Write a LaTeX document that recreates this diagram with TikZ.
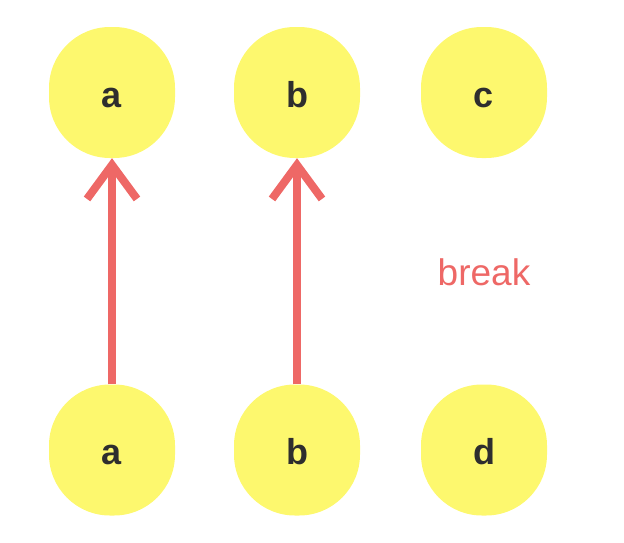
\documentclass[tikz,border=0pt]{standalone}
\usepackage{fontspec}
\setmainfont{Liberation Sans}
\usetikzlibrary{arrows.meta}
\definecolor{blobyellow}{HTML}{FDF86E}
\definecolor{arrowred}{HTML}{EE6866}
\definecolor{lettergray}{HTML}{2E2E2E}
\tikzset{
  blob/.style={fill=blobyellow, draw=none, rectangle, rounded corners=61pt,
    minimum width=126pt, minimum height=131pt, inner sep=0pt,
    text height=29pt, text depth=0pt,
    font=\fontsize{36}{40}\selectfont\bfseries, text=lettergray},
  link/.style={draw=arrowred, line width=8pt,
    -{Straight Barb[length=34pt, width=50pt, line width=8pt]}}
}
\begin{document}
\begin{tikzpicture}[x=1pt, y=-1pt]
\useasboundingbox (0,0) rectangle (624,542);
\node[blob] (ta) at (112,92.5) {a};
\node[blob] (tb) at (297,92.5) {b};
\node[blob] (tc) at (484,92.5) {c};
\node[blob] (ba) at (112,450) {a};
\node[blob] (bb) at (297,450) {b};
\node[blob] (bd) at (484,450) {d};
\node[text=arrowred, font=\fontsize{37}{40}\selectfont, inner sep=0pt] (brk) at (484,272) {break};
\draw[link] (ba.north) -- (ta.south);
\draw[link] (bb.north) -- (tb.south);
\end{tikzpicture}
\end{document}
